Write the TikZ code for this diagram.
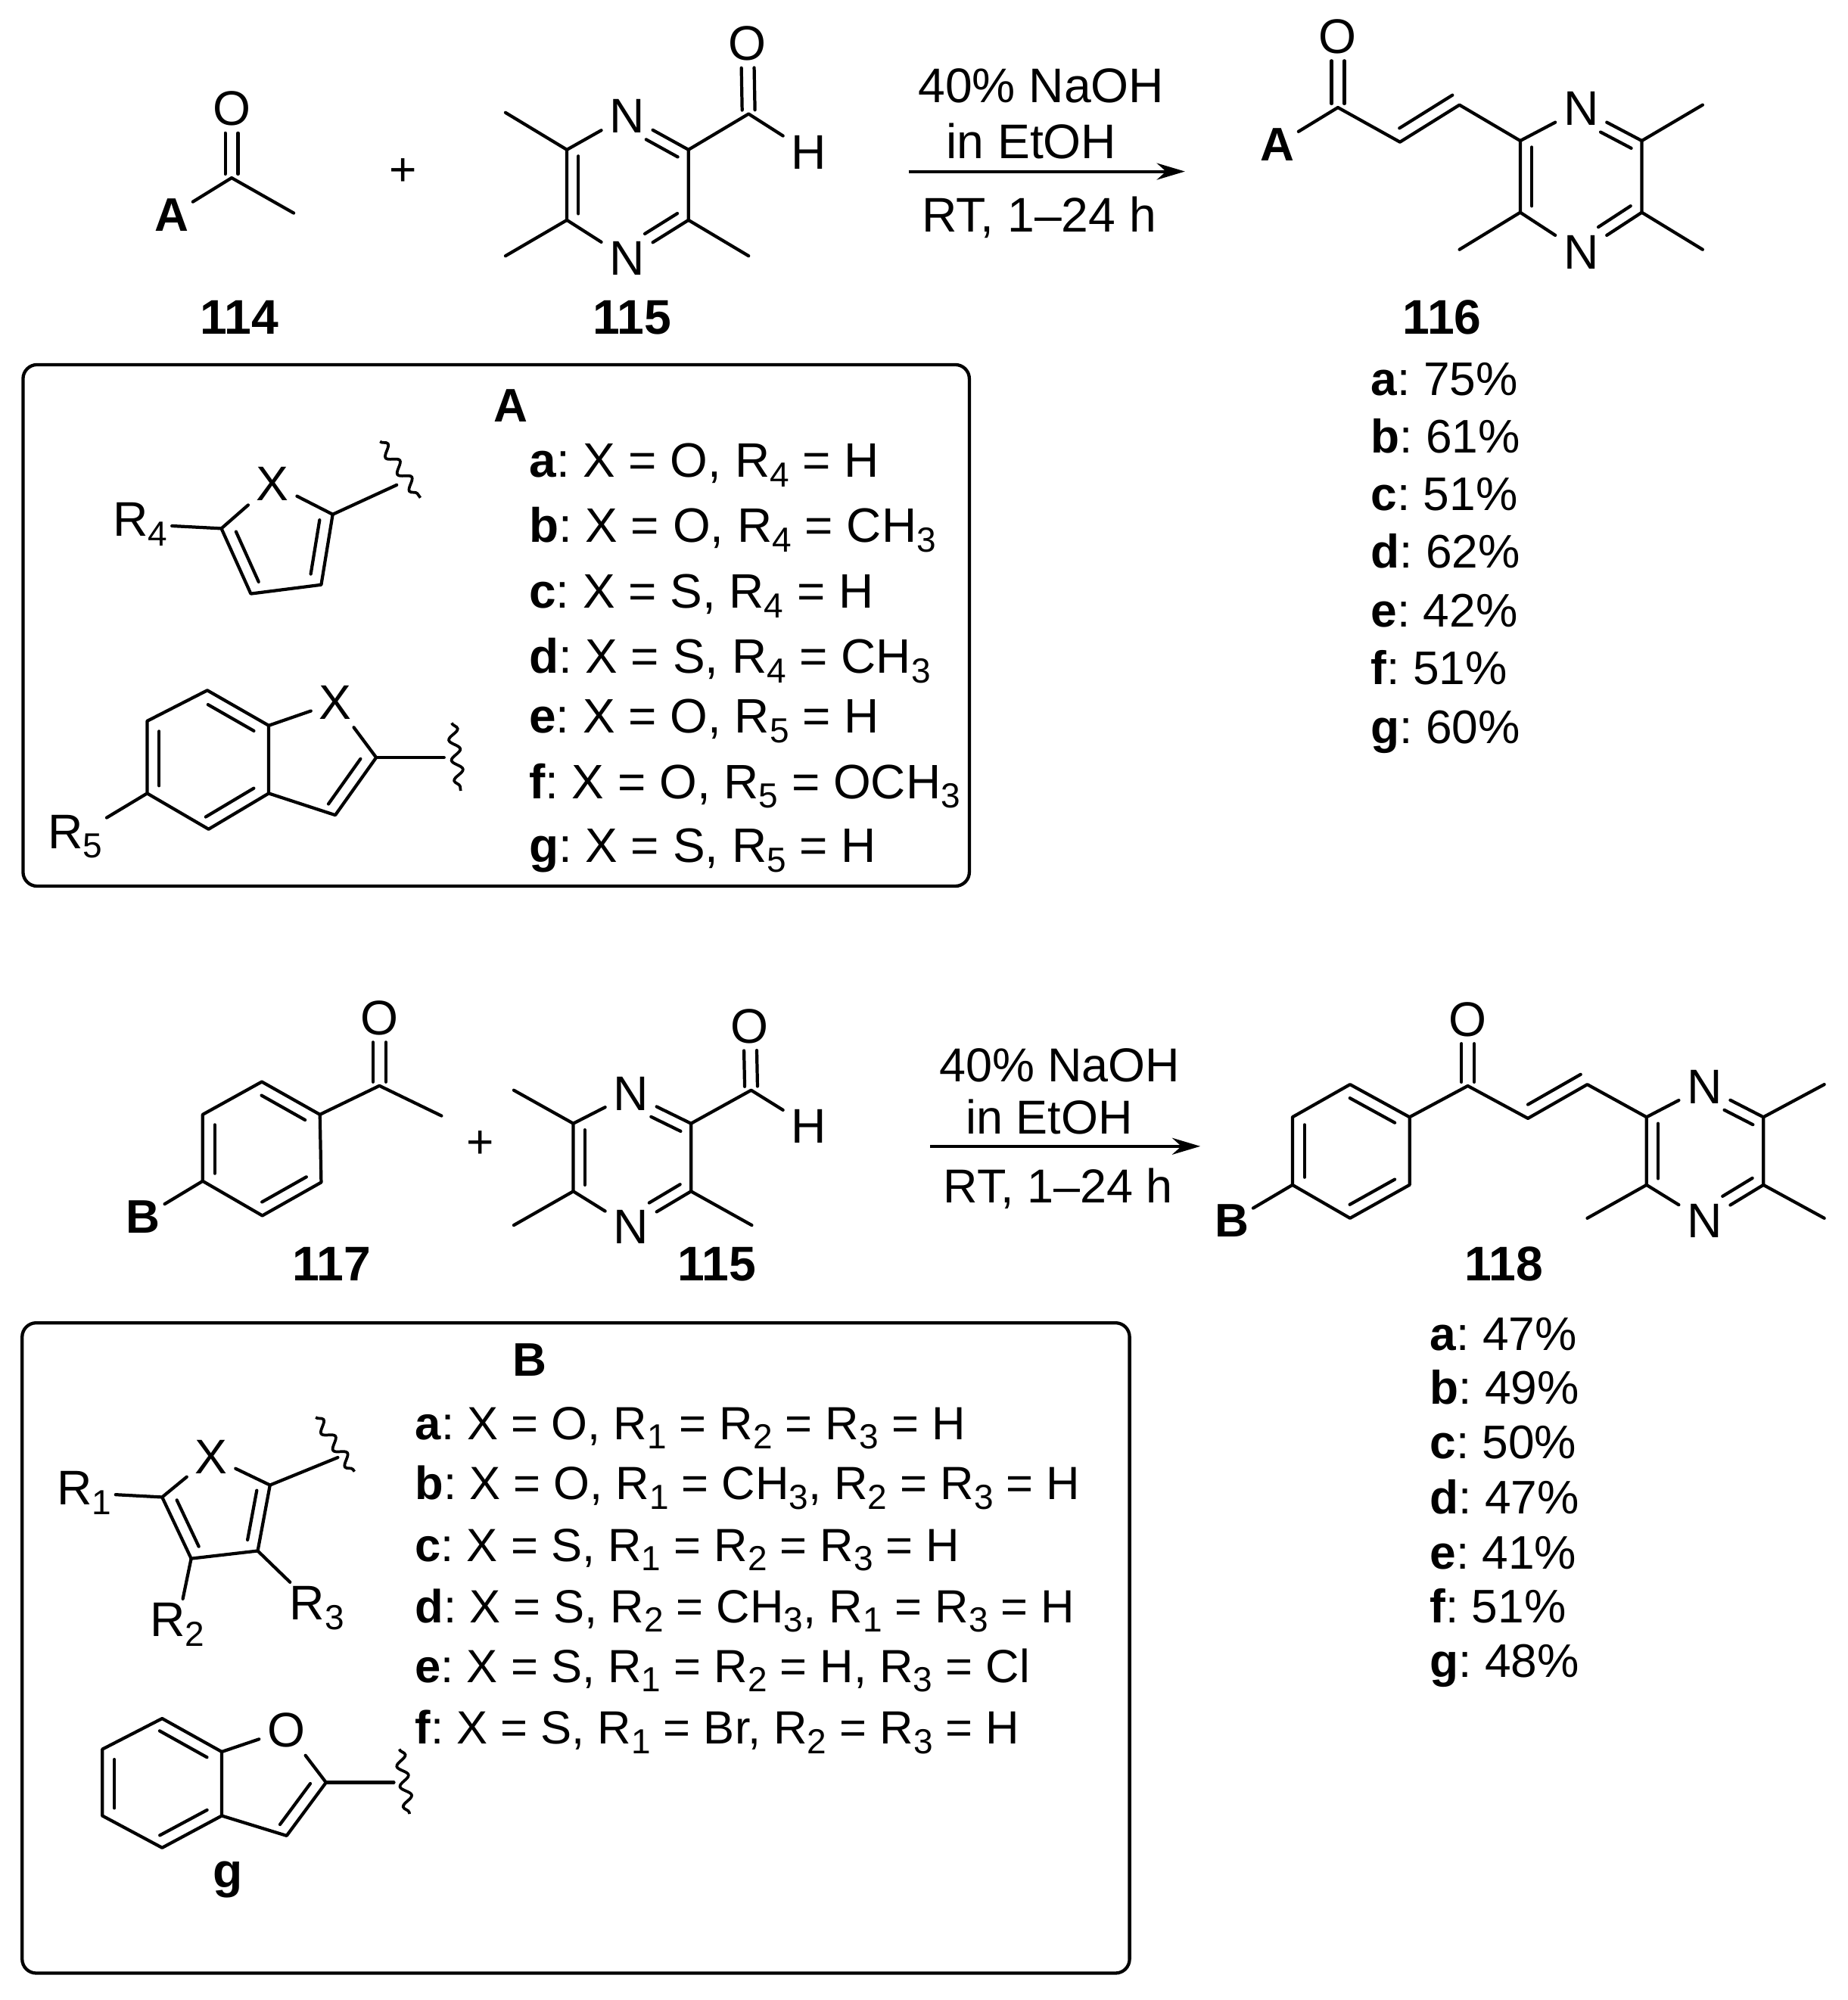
\documentclass[tikz,border=0pt]{standalone}
\usepackage{fontspec}
\setmainfont{Liberation Sans}
\usetikzlibrary{calc,arrows.meta,decorations.pathmorphing}
\frenchspacing
\newcommand{\subn}[1]{\raisebox{-0.2em}{\fontsize{13.6}{14}\selectfont #1}}
% inner line of a double bond: from, to, offset, shorten at both ends (pt)
\newcommand{\inbond}[5]{\draw[bond,shorten <=#4pt,shorten >=#5pt] ($(#1)!#3pt!90:(#2)$) -- ($(#2)!#3pt!-90:(#1)$);}
\tikzset{
  bond/.style={line width=1.25pt,line cap=round,line join=round},
  wavy/.style={line width=1.1pt,decorate,decoration={snake,amplitude=2pt,segment length=8pt}},
  panel/.style={line width=1.27pt,rounded corners=5.5pt},
  atom/.style={inner sep=3pt,font=\fontsize{19}{22}\selectfont},
  rlabel/.style={inner sep=1.5pt,anchor=base west,font=\fontsize{19}{22}\selectfont},
  tag/.style={inner sep=1.5pt,font=\fontsize{18.4}{22}\selectfont\bfseries},
  row/.style={inner sep=0pt,anchor=base west},
  rowa/.style={row,font=\fontsize{18.9}{22}\selectfont},
  rowb/.style={row,font=\fontsize{18.2}{22}\selectfont},
  reagent/.style={inner sep=0pt,anchor=base,font=\fontsize{19}{22}\selectfont},
  reagentb/.style={inner sep=0pt,anchor=base,font=\fontsize{18.6}{22}\selectfont},
  number/.style={inner sep=0pt,anchor=base,font=\fontsize{19}{22}\selectfont\bfseries},
}
\begin{document}
\begin{tikzpicture}[x=0.5pt,y=-0.5pt,font=\fontsize{18.4}{22}\selectfont]
\useasboundingbox (0,0) rectangle (1444,1563);
% Pyrazine rings
\foreach \p/\lx/\rx/\ty/\by/\nx/\nt/\nb in {pa/443/538/117/172/490/90.5/202,pb/448/540/878/931/493/855/959,pc/1188/1283/110/166/1235.5/85/197,pd/1286.7/1378/873/926/1332/849.4/954} {
  \coordinate (\p-lt) at (\lx,\ty);
  \coordinate (\p-rt) at (\rx,\ty);
  \coordinate (\p-lb) at (\lx,\by);
  \coordinate (\p-rb) at (\rx,\by);
  \node[atom] (\p-nt) at (\nx,\nt) {N};
  \node[atom] (\p-nb) at (\nx,\nb) {N};
  \draw[bond] (\p-lt) -- (\p-nt) -- (\p-rt) -- (\p-rb) -- (\p-nb) -- (\p-lb) -- (\p-lt);
  \inbond{\p-lt}{\p-lb}{4.5}{2.5}{2.5}
  \inbond{\p-rt}{\p-nt}{4.5}{2.3}{11}
  \inbond{\p-nb}{\p-rb}{4.5}{11}{2.3}
}
% Methyl ends
\foreach \a/\n/\x/\y in {pa-lt/ma1/395/88,pa-lb/ma2/395/200,pa-rb/ma3/585/200,pb-lt/mb1/401.5/852,pb-lb/mb2/401.5/957.5,pb-rb/mb3/587.5/957.5,pc-rt/mc1/1330.5/82,pc-rb/mc2/1330.5/195,pc-lb/mc3/1140.5/195,pd-rt/md1/1425.6/847.5,pd-rb/md2/1425.6/952,pd-lb/md3/1240.4/952} {
  \coordinate (\n) at (\x,\y);
  \draw[bond] (\a) -- (\n);
}
% Aldehydes
\foreach \p/\cx/\cy/\ox/\oy/\hx/\hy in {pa/585/89/584/34/632/119,pb/587/852/586/802/632/880} {
  \coordinate (\p-c) at (\cx,\cy);
  \node[atom] (\p-o) at (\ox,\oy) {O};
  \node[atom] (\p-h) at (\hx,\hy) {H};
  \draw[bond] (\p-rt) -- (\p-c) -- (\p-h);
  \inbond{\p-c}{\p-o}{2.5}{1.5}{9.5}
  \inbond{\p-c}{\p-o}{-2.5}{1.5}{9.5}
}
% 114
\coordinate (c114) at (181,139);
\coordinate (me114) at (229.5,166.5);
\node[atom] (o114) at (181,85) {O};
\node[tag] (a114) at (134,168) {A};
\draw[bond] (a114) -- (c114) -- (me114);
\inbond{c114}{o114}{2.5}{1.5}{9.5}
\inbond{c114}{o114}{-2.5}{1.5}{9.5}
\node (plus1) at (315,134.5) {+};
% 116
\coordinate (c116) at (1045.5,84);
\coordinate (ch116a) at (1094,111);
\coordinate (ch116b) at (1140.5,82);
\node[atom] (o116) at (1045.5,28.5) {O};
\node[tag] (a116) at (998,113) {A};
\draw[bond] (a116) -- (c116) -- (ch116a) -- (ch116b) -- (pc-lt);
\inbond{c116}{o116}{2.5}{1.5}{9.5}
\inbond{c116}{o116}{-2.5}{1.5}{9.5}
\inbond{ch116a}{ch116b}{4.7}{2.7}{0.3}
% 117
\coordinate (c117) at (296.5,848.5);
\coordinate (me117) at (345,872);
\coordinate (r1) at (250,871);
\coordinate (r2) at (204.6,845.4);
\coordinate (r3) at (158.4,871);
\coordinate (r4) at (158.4,923);
\coordinate (r5) at (205,950);
\coordinate (r6) at (251,924);
\node[atom] (o117) at (296.5,795.5) {O};
\node[tag] (b117) at (112,951) {B};
\draw[bond] (b117) -- (r4) -- (r3) -- (r2) -- (r1) -- (r6) -- (r5) -- (r4);
\draw[bond] (r1) -- (c117) -- (me117);
\inbond{c117}{o117}{2.5}{1.5}{9.5}
\inbond{c117}{o117}{-2.5}{1.5}{9.5}
\inbond{r2}{r1}{-4.7}{2.5}{4}
\inbond{r3}{r4}{4.7}{4}{3}
\inbond{r5}{r6}{4.7}{2.5}{4}
\node (plus2) at (375.5,894.5) {+};
% 118
\coordinate (c118) at (1147,848.6);
\coordinate (ch118a) at (1194,874);
\coordinate (ch118b) at (1240.4,847.5);
\coordinate (s1) at (1101.5,873);
\coordinate (s2) at (1055,847.5);
\coordinate (s3) at (1010,873);
\coordinate (s4) at (1010,926);
\coordinate (s5) at (1055,952);
\coordinate (s6) at (1101.5,926);
\node[atom] (o118) at (1147,796.6) {O};
\node[tag] (b118) at (962.6,954) {B};
\draw[bond] (b118) -- (s4) -- (s3) -- (s2) -- (s1) -- (s6) -- (s5) -- (s4);
\draw[bond] (s1) -- (c118) -- (ch118a) -- (ch118b) -- (pd-lt);
\inbond{c118}{o118}{2.5}{1.5}{9.5}
\inbond{c118}{o118}{-2.5}{1.5}{9.5}
\inbond{ch118a}{ch118b}{4.7}{2.7}{0.3}
\inbond{s2}{s1}{-4.7}{2.5}{4}
\inbond{s3}{s4}{4.7}{3}{3}
\inbond{s5}{s6}{4.7}{2.5}{4}
% Arrows
\foreach \n/\xa/\xb/\y in {one/710/926/134,two/727/938/895.8} {
  \coordinate (\n-s) at (\xa,\y);
  \coordinate (\n-e) at (\xb,\y);
  \draw[line width=1.2pt,-{Stealth[length=11pt,width=6.5pt]}] (\n-s) -- (\n-e);
}
\node[reagent] (naoh1) at (813.6,80.4) {40\% NaOH};
\node[reagent] (etoh1) at (806,124) {in EtOH};
\node[reagent] (time1) at (812,181.4) {RT, 1--24 h};
\node[reagentb] (naoh2) at (828,845.6) {40\% NaOH};
\node[reagentb] (etoh2) at (820,886) {in EtOH};
\node[reagentb] (time2) at (827,940) {RT, 1--24 h};
% Numbers
\foreach \x/\y/\n in {187/261/114,494/261/115,1127/261/116,259/1001/117,560/1001/115,1175/1001/118} {
  \node[number] (n\x) at (\x,\y) {\n};
}
% Box A
\draw[panel] (18,285) rectangle (757.5,692.5);
\node[tag] (taga) at (399,317) {A};
\foreach \y/\txt in {373/{\textbf{a}: X = O, R\subn{4} = H},424/{\textbf{b}: X = O, R\subn{4} = CH\subn{3}},475/{\textbf{c}: X = S, R\subn{4} = H},526/{\textbf{d}: X = S, R\subn{4} = CH\subn{3}},573/{\textbf{e}: X = O, R\subn{5} = H},624/{\textbf{f}: X = O, R\subn{5} = OCH\subn{3}},674/{\textbf{g}: X = S, R\subn{5} = H}} {
  \node[rowa] (boxa\y) at (413,\y) {\txt};
}
% Furan in box A
\coordinate (fa1) at (173,413);
\coordinate (fa2) at (196,464);
\coordinate (fa3) at (251,457);
\coordinate (fa4) at (260,402);
\coordinate (fa5) at (310,379);
\coordinate (wa1) at (297,345);
\coordinate (wa2) at (328.5,389);
\node[atom] (xa) at (213,378) {X};
\node[rlabel] (rf4) at (85,419) {R\subn{4}};
\draw[bond] (rf4) -- (fa1) -- (fa2) -- (fa3) -- (fa4) -- (xa) -- (fa1);
\draw[bond] (fa4) -- (fa5);
\draw[wavy] (wa1) -- (wa2);
\inbond{fa1}{fa2}{4.7}{3.5}{3}
\inbond{fa4}{fa3}{-4.7}{3}{3.5}
% Benzofuran in box A
\coordinate (ba1) at (162,539.5);
\coordinate (ba2) at (210,567);
\coordinate (ba3) at (210,620);
\coordinate (ba4) at (163,648);
\coordinate (ba5) at (115,620);
\coordinate (ba6) at (115,563.5);
\coordinate (ba7) at (294,592);
\coordinate (ba8) at (262,637);
\coordinate (ba9) at (347,592);
\coordinate (wb1) at (353,565);
\coordinate (wb2) at (360,618);
\node[atom] (xb) at (262,549) {X};
\node[rlabel] (rf5) at (34,663) {R\subn{5}};
\draw[bond] (rf5) -- (ba5) -- (ba6) -- (ba1) -- (ba2) -- (ba3) -- (ba4) -- (ba5);
\draw[bond] (ba2) -- (xb) -- (ba7) -- (ba8) -- (ba3);
\draw[bond] (ba7) -- (ba9);
\draw[wavy] (wb1) -- (wb2);
\inbond{ba1}{ba2}{-4.7}{3}{4}
\inbond{ba6}{ba5}{4.7}{4}{3}
\inbond{ba4}{ba3}{4.7}{1.5}{4}
\inbond{ba7}{ba8}{-4.7}{4}{2}
% Yields 116
\foreach \y/\txt in {309/{\textbf{a}: 75\%},354/{\textbf{b}: 61\%},399/{\textbf{c}: 51\%},444/{\textbf{d}: 62\%},490/{\textbf{e}: 42\%},535/{\textbf{f}: 51\%},581/{\textbf{g}: 60\%}} {
  \node[row] (ya\y) at (1071,\y) {\txt};
}
% Box B
\draw[panel] (17.3,1033.8) rectangle (882.7,1542);
\node[tag] (tagb) at (413.7,1063) {B};
\foreach \y/\txt in {1125/{\textbf{a}: X = O, R\subn{1} = R\subn{2} = R\subn{3} = H},1172/{\textbf{b}: X = O, R\subn{1} = CH\subn{3}, R\subn{2} = R\subn{3} = H},1220/{\textbf{c}: X = S, R\subn{1} = R\subn{2} = R\subn{3} = H},1268/{\textbf{d}: X = S, R\subn{2} = CH\subn{3}, R\subn{1} = R\subn{3} = H},1315/{\textbf{e}: X = S, R\subn{1} = R\subn{2} = H, R\subn{3} = Cl},1363/{\textbf{f}: X = S, R\subn{1} = Br, R\subn{2} = R\subn{3} = H}} {
  \node[rowb] (boxb\y) at (324,\y) {\txt};
}
% Furan in box B
\coordinate (fb1) at (126.7,1170);
\coordinate (fb2) at (149.4,1218);
\coordinate (fb3) at (201.4,1212);
\coordinate (fb4) at (211,1160.6);
\coordinate (fb5) at (264,1139);
\coordinate (wc1) at (246.7,1107.6);
\coordinate (wc2) at (277,1150);
\node[atom] (xc) at (165,1138.5) {X};
\node[rlabel] (rb1) at (41,1176) {R\subn{1}};
\node[rlabel] (rb2) at (114,1279) {R\subn{2}};
\node[rlabel] (rb3) at (223,1266) {R\subn{3}};
\draw[bond] (rb1) -- (fb1) -- (fb2) -- (fb3) -- (fb4) -- (xc) -- (fb1);
\draw[bond] (fb2) -- (rb2);
\draw[bond] (fb3) -- (rb3);
\draw[bond] (fb4) -- (fb5);
\draw[wavy] (wc1) -- (wc2);
\inbond{fb1}{fb2}{4.7}{3.5}{3}
\inbond{fb4}{fb3}{-4.7}{3}{3.5}
% Benzofuran g
\coordinate (bg1) at (126.7,1343);
\coordinate (bg2) at (173.3,1369);
\coordinate (bg3) at (173.3,1419);
\coordinate (bg4) at (126.7,1444);
\coordinate (bg5) at (80,1419);
\coordinate (bg6) at (80,1367);
\coordinate (bg7) at (254.8,1393);
\coordinate (bg8) at (224,1434.6);
\coordinate (bg9) at (307.8,1393);
\coordinate (wd1) at (312,1367);
\coordinate (wd2) at (320,1417.6);
\node[atom] (og) at (223.6,1352) {O};
\node[number] (labg) at (178,1475) {g};
\draw[bond] (bg5) -- (bg6) -- (bg1) -- (bg2) -- (bg3) -- (bg4) -- (bg5);
\draw[bond] (bg2) -- (og) -- (bg7) -- (bg8) -- (bg3);
\draw[bond] (bg7) -- (bg9);
\draw[wavy] (wd1) -- (wd2);
\inbond{bg1}{bg2}{-4.7}{1.5}{4}
\inbond{bg6}{bg5}{4.7}{4}{3}
\inbond{bg4}{bg3}{4.7}{1.5}{4}
\inbond{bg7}{bg8}{-4.7}{4}{2}
% Yields 118
\foreach \y/\txt in {1055/{\textbf{a}: 47\%},1097/{\textbf{b}: 49\%},1140/{\textbf{c}: 50\%},1183/{\textbf{d}: 47\%},1226/{\textbf{e}: 41\%},1268/{\textbf{f}: 51\%},1311/{\textbf{g}: 48\%}} {
  \node[row] (yb\y) at (1117,\y) {\txt};
}
\end{tikzpicture}
\end{document}
